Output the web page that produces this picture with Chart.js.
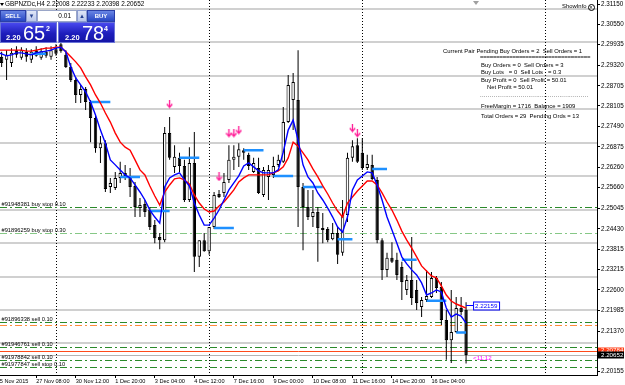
<!DOCTYPE html>
<html><head><meta charset="utf-8">
<script src="https://cdn.jsdelivr.net/npm/chart.js@4.4.0/dist/chart.umd.min.js"></script>
<style>
html,body{margin:0;padding:0;background:#fff;overflow:hidden;}
#wrap{position:relative;width:625px;height:385px;}
#c{position:absolute;left:0;top:0;}
.t{position:absolute;font-family:"Liberation Sans",Arial,sans-serif;color:#000;white-space:pre;line-height:1;font-size:5.9px;}
.btn{position:absolute;top:10px;height:12px;background:linear-gradient(#6a86e4,#2747c4);color:#fff;font:bold 6px "Liberation Sans",Arial,sans-serif;text-align:center;line-height:11px;box-sizing:border-box;border:1px solid #2a3fa8;}
.spin{position:absolute;top:10px;height:12px;background:linear-gradient(#dfe6f7,#b9c6ea);color:#24408f;font:7px "DejaVu Sans",sans-serif;text-align:center;line-height:11px;box-sizing:border-box;border:1px solid #8a9bd0;}
.inp{position:absolute;top:10px;height:12px;background:#fff;box-sizing:border-box;border:1px solid #9aa6c8;font:6.5px "Liberation Sans",Arial,sans-serif;text-align:right;line-height:10px;padding-right:5px;}
.pbox{position:absolute;top:22px;height:21px;background:linear-gradient(#4848ee,#1e1ebc 55%,#1414a6);box-sizing:border-box;border:1px solid #6a74d8;color:#fff;font-family:"Liberation Sans",Arial,sans-serif;}
.pbox span{position:absolute;line-height:1;white-space:pre;}
.sm{font-size:7.5px;font-weight:bold;top:11px;}
.big{font-size:20px;top:-0.5px;}
.sup{font-size:7px;font-weight:bold;top:1.5px;}
.ico{display:inline-block;width:5px;height:5px;border:1px solid #000;border-radius:50%;vertical-align:-1px;margin-left:1px;font-size:5px;line-height:5px;text-align:center;}
</style></head><body>
<div id="wrap">
<canvas id="c" width="625" height="385"></canvas>
<div style="position:absolute;left:0;top:3px;width:0;height:0;border-left:2px solid transparent;border-right:2px solid transparent;border-top:3px solid #000;"></div>
<div class="t" id="title" style="left:5px;top:1px;font-size:6.4px"></div>
<div class="btn" style="left:0;width:26px">SELL</div>
<div class="spin" style="left:26px;width:11px">▾</div>
<div class="inp" style="left:37px;width:40px">0.01</div>
<div class="spin" style="left:77px;width:10px">▴</div>
<div class="btn" style="left:87px;width:28px">BUY</div>
<div class="pbox" style="left:0;width:57px"><span class="sm" style="left:5px">2.20</span><span class="big" style="left:22px">65</span><span class="sup" style="left:45px">2</span></div>
<div class="pbox" style="left:58px;width:57px"><span class="sm" style="left:6px">2.20</span><span class="big" style="left:23px">78</span><span class="sup" style="left:45px">4</span></div>
<div style="position:absolute;left:473px;top:1px;width:0;height:0;border-left:3px solid transparent;border-right:3px solid transparent;border-top:4px solid #a0a0a0;"></div>
<div class="t" style="left:562px;top:4px">ShowInfo<span class="ico">×</span></div>
<div class="t" style="left:443px;top:48.7px">Current Pair Pending Buy Orders = 2  Sell Orders = 1</div>
<div class="t" style="left:480px;top:54.5px;font-weight:bold;letter-spacing:-0.2px">==================================</div>
<div class="t" style="left:481px;top:62.7px">Buy Orders = 0  Sell Orders = 3</div>
<div class="t" style="left:481px;top:70.3px">Buy Lots   = 0  Sell Lots   = 0.3</div>
<div class="t" style="left:481px;top:77.7px">Buy Profit = 0  Sell Profit = 50.01</div>
<div class="t" style="left:487px;top:84.7px">Net Profit = 50.01</div>
<div class="t" style="left:480px;top:92.5px;letter-spacing:0.3px">........................................................</div>
<div class="t" style="left:481px;top:104.3px">FreeMargin = 1716  Balance = 1909</div>
<div class="t" style="left:481px;top:113.7px">Total Orders = 29  Pending Ords = 13</div>
</div>
<script>
// ---------------- DATA ----------------
const symbolName = "GBPNZDc,H4";
const xTickBars = [0, 8, 16, 24, 32, 40, 48, 56, 64, 72, 80, 88];
const xTickLabels = ["25 Nov 2015", "27 Nov 08:00", "30 Nov 12:00", "1 Dec 20:00", "3 Dec 04:00", "4 Dec 12:00",
  "7 Dec 16:00", "9 Dec 00:00", "10 Dec 08:00", "11 Dec 16:00", "14 Dec 20:00", "16 Dec 04:00"];
const yTickLabels = ["2.31150", "2.30550", "2.29935", "2.29320", "2.28705", "2.28105", "2.27490", "2.26875",
  "2.26260", "2.25660", "2.25045", "2.24430", "2.23815", "2.23215", "2.22600", "2.21985", "2.21370", "2.20155"];
const roundLevels = [2.31, 2.30, 2.29, 2.28, 2.27, 2.26, 2.25, 2.24, 2.23, 2.22, 2.21];

const openPrices = [2.2963,2.2957,2.2948,2.2939,2.2977,2.2954,2.2972,2.2948,2.2977,2.2954,
  2.2972,2.2957,2.2980,2.2995,2.2963,2.2927,2.2888,2.2843,2.2861,2.2822,
  2.2774,2.2684,2.2699,2.2568,2.2565,2.2595,2.2610,2.2601,2.2571,2.2505,
  2.2517,2.2499,2.2454,2.2418,2.2409,2.2729,2.2628,2.2655,2.2631,2.2529,
  2.2640,2.2359,2.2409,2.2376,2.2448,2.2547,2.2550,2.2589,2.2649,2.2658,
  2.2678,2.2664,2.2613,2.2625,2.2544,2.2598,2.2604,2.2634,2.2643,2.2762,
  2.2828,2.2828,2.2568,2.2508,2.2478,2.2493,2.2439,2.2442,2.2412,2.2430,
  2.2371,2.2484,2.2655,2.2693,2.2670,2.2625,2.2634,2.2589,2.2409,2.2320,
  2.2356,2.2350,2.2329,2.2260,2.2290,2.2260,2.2209,2.2230,2.2239,2.2296,
  2.2269,2.2170,2.2110,2.2134,2.2206,2.22008];
const highPrices = [2.2983,2.2972,2.2977,2.2983,2.2989,2.2986,2.2983,2.2980,2.2989,2.2983,
  2.2986,2.2989,2.2995,2.3007,2.2977,2.2939,2.2897,2.2873,2.2867,2.2828,
  2.2783,2.2720,2.2708,2.2595,2.2613,2.2643,2.2634,2.2625,2.2583,2.2535,
  2.2529,2.2508,2.2469,2.2430,2.2747,2.2777,2.2693,2.2670,2.2649,2.2687,
  2.2732,2.2409,2.2430,2.2448,2.2553,2.2559,2.2610,2.2693,2.2693,2.2699,
  2.2684,2.2670,2.2655,2.2655,2.2628,2.2634,2.2658,2.2664,2.2807,2.2903,
  2.2909,2.2977,2.2580,2.2559,2.2559,2.2508,2.2490,2.2448,2.2460,2.2448,
  2.2529,2.2670,2.2708,2.2714,2.2714,2.2664,2.2664,2.2598,2.2415,2.2371,
  2.2403,2.2371,2.2344,2.2305,2.2418,2.2290,2.2239,2.2320,2.2314,2.2302,
  2.2284,2.2200,2.2260,2.2239,2.2239,2.22233];
const lowPrices = [2.2942,2.2927,2.2888,2.2927,2.2954,2.2948,2.2942,2.2939,2.2957,2.2948,
  2.2954,2.2948,2.2960,2.2969,2.2924,2.2882,2.2819,2.2819,2.2798,2.2702,
  2.2670,2.2640,2.2553,2.2550,2.2559,2.2580,2.2589,2.2538,2.2478,2.2478,
  2.2478,2.2439,2.2400,2.2382,2.2403,2.2649,2.2610,2.2613,2.2523,2.2523,
  2.2314,2.2329,2.2374,2.2365,2.2442,2.2535,2.2538,2.2580,2.2619,2.2628,
  2.2649,2.2619,2.2610,2.2547,2.2538,2.2529,2.2595,2.2628,2.2640,2.2759,
  2.2738,2.2448,2.2379,2.2469,2.2448,2.2344,2.2400,2.2403,2.2409,2.2338,
  2.2362,2.2463,2.2643,2.2640,2.2619,2.2619,2.2589,2.2400,2.2290,2.2299,
  2.2341,2.2290,2.2230,2.2245,2.2215,2.2200,2.2179,2.2224,2.2236,2.2251,
  2.2155,2.2051,2.2042,2.2131,2.2185,2.20398];
const closePrices = [2.2954,2.2939,2.2963,2.2969,2.2963,2.2977,2.2957,2.2972,2.2960,2.2974,
  2.2960,2.2977,2.2966,2.2974,2.2927,2.2888,2.2843,2.2861,2.2822,2.2774,
  2.2684,2.2699,2.2562,2.2580,2.2595,2.2610,2.2601,2.2568,2.2508,2.2514,
  2.2493,2.2448,2.2415,2.2409,2.2729,2.2655,2.2658,2.2631,2.2529,2.2640,
  2.2359,2.2409,2.2376,2.2448,2.2544,2.2538,2.2583,2.2649,2.2658,2.2681,
  2.2670,2.2631,2.2640,2.2550,2.2619,2.2619,2.2631,2.2649,2.2762,2.2873,
  2.2882,2.2568,2.2508,2.2478,2.2493,2.2445,2.2445,2.2409,2.2430,2.2365,
  2.2484,2.2655,2.2690,2.2643,2.2625,2.2637,2.2592,2.2409,2.2320,2.2356,
  2.2344,2.2305,2.2284,2.2290,2.2236,2.2221,2.2230,2.2242,2.2296,2.2266,
  2.2170,2.2110,2.2134,2.2206,2.2194,2.20652];

const maSlow = [2.2977,2.2977,2.2977,2.2977,2.2977,2.2977,2.2974,2.2974,2.2977,2.2980,
  2.2983,2.2983,2.2986,2.2986,2.2972,2.2957,2.2942,2.2924,2.2897,2.2873,
  2.2843,2.2819,2.2789,2.2762,2.2729,2.2702,2.2687,2.2678,2.2649,2.2619,
  2.2604,2.2571,2.2541,2.2514,2.2553,2.2574,2.2592,2.2595,2.2589,2.2577,
  2.2544,2.2520,2.2502,2.2493,2.2496,2.2511,2.2523,2.2541,2.2559,2.2583,
  2.2595,2.2604,2.2604,2.2604,2.2604,2.2604,2.2610,2.2616,2.2628,2.2655,
  2.2702,2.2690,2.2670,2.2649,2.2622,2.2598,2.2571,2.2547,2.2520,2.2496,
  2.2478,2.2520,2.2538,2.2556,2.2571,2.2586,2.2586,2.2574,2.2550,2.2523,
  2.2499,2.2469,2.2436,2.2409,2.2385,2.2359,2.2332,2.2317,2.2302,2.2296,
  2.2272,2.2245,2.2227,2.2218,2.2212,2.2206];
const maFast = [2.2972,2.2966,2.2960,2.2963,2.2969,2.2969,2.2966,2.2963,2.2969,2.2972,
  2.2974,2.2977,2.2983,2.2986,2.2972,2.2927,2.2894,2.2873,2.2852,2.2822,
  2.2783,2.2738,2.2699,2.2649,2.2634,2.2619,2.2604,2.2595,2.2574,2.2553,
  2.2529,2.2499,2.2478,2.2460,2.2568,2.2595,2.2604,2.2610,2.2589,2.2571,
  2.2520,2.2484,2.2454,2.2454,2.2475,2.2499,2.2529,2.2559,2.2580,2.2601,
  2.2631,2.2640,2.2628,2.2616,2.2610,2.2610,2.2610,2.2619,2.2672,2.2738,
  2.2768,2.2708,2.2634,2.2598,2.2580,2.2550,2.2529,2.2505,2.2478,2.2448,
  2.2433,2.2478,2.2559,2.2589,2.2601,2.2613,2.2610,2.2574,2.2529,2.2478,
  2.2439,2.2400,2.2359,2.2338,2.2320,2.2305,2.2281,2.2245,2.2251,2.2260,
  2.2254,2.2206,2.2179,2.2188,2.2182,2.2161];

const levelStartBars = [7, 19, 25, 31, 37, 44, 50, 56, 62, 69, 76, 82, 87, 93];
const levelEndBars   = [10, 23, 29, 35, 41, 48, 54, 60, 66, 72, 79, 85, 91, 95];
const levelPrices    = [2.2966, 2.2822, 2.2598, 2.2496, 2.2655, 2.2445, 2.2678, 2.2601, 2.2568, 2.2412, 2.2622, 2.2350, 2.2228, 2.2133];

const arrowBars   = [35, 45, 47, 48, 49, 72, 73];
const arrowPrices = [2.2816, 2.2598, 2.2729, 2.2729, 2.2738, 2.2744, 2.2729];

const orderTickets = [91948381, 91896259, 91896338, 91946761, 91978842, 91977847];
const orderTypes   = ["buy stop", "buy stop", "sell", "sell", "sell", "sell stop"];
const orderLots    = [0.10, 0.30, 0.10, 0.10, 0.10, 0.10];
const orderPrices  = [2.25066, 2.24294, 2.21642, 2.20895, 2.20497, 2.20306];
const stopLevels   = [2.21567];

const askPrice = 2.20784;
const bidPrice = 2.20652;
const markerPrice = 2.22159;
const barTimer = "<11:12";
const weekStartBars = [12, 43, 74, 111];

// ---------------- STYLE ----------------
const FONT = '"Liberation Sans", Arial, sans-serif';
const orderLineColors = ['#2a8a2a', '#86c886', '#2a8a2a', '#2a8a2a', '#2a8a2a', '#2a8a2a'];
const stopLineColor = '#ff8a3a';
const yMax = 2.3127, yMin = 2.200575;
const xMin = 0.67, xMax = 121.5;

document.getElementById('title').textContent = symbolName + ' ' +
  [openPrices, highPrices, lowPrices, closePrices].map(a => a[a.length - 1].toFixed(5)).join(' ');

const bars = openPrices.map((_, i) => i);
const wickData = bars.map(i => ({x: i, y: [lowPrices[i], highPrices[i]]}));
const bodyData = bars.map(i => ({x: i, y: [openPrices[i], closePrices[i]]}));
const bodyColors = bars.map(i => closePrices[i] > openPrices[i] ? '#ffffff' : '#000000');
const levelData = [];
levelPrices.forEach((p, k) => {
  levelData.push({x: levelStartBars[k], y: p}, {x: levelEndBars[k], y: p}, {x: levelEndBars[k] + 0.5, y: null});
});
const arrowData = arrowBars.map((b, k) => ({x: b, y: arrowPrices[k]}));

function arrowImage() {
  const c = document.createElement('canvas'); c.width = 7; c.height = 9;
  const g = c.getContext('2d');
  g.strokeStyle = '#ff1493'; g.lineWidth = 1.3;
  g.beginPath(); g.moveTo(3.5, 0); g.lineTo(3.5, 7.5); g.stroke();
  g.beginPath(); g.moveTo(0.8, 4.5); g.lineTo(3.5, 7.8); g.lineTo(6.2, 4.5); g.stroke();
  return c;
}

const decor = {
  id: 'decor',
  beforeDatasetsDraw(chart) {
    const {ctx, chartArea: a, scales: {x, y}} = chart;
    const hline = p => { const py = Math.round(y.getPixelForValue(p)) + 0.5; ctx.beginPath(); ctx.moveTo(a.left, py); ctx.lineTo(a.right, py); ctx.stroke(); };
    ctx.save();
    ctx.beginPath(); ctx.rect(a.left, a.top, a.width, a.height); ctx.clip();
    ctx.lineWidth = 1.6; ctx.strokeStyle = '#c0c0c0';
    roundLevels.forEach(p => { const py = Math.round(y.getPixelForValue(p)); ctx.beginPath(); ctx.moveTo(a.left, py); ctx.lineTo(a.right, py); ctx.stroke(); });
    ctx.lineWidth = 1;
    ctx.strokeStyle = '#000'; ctx.setLineDash([1, 2]);
    weekStartBars.forEach(b => {
      const px = Math.round(x.getPixelForValue(b)) + 0.5;
      ctx.beginPath(); ctx.moveTo(px, a.top); ctx.lineTo(px, a.bottom); ctx.stroke();
    });
    ctx.setLineDash([]);
    ctx.strokeStyle = '#b4b4b4'; hline(bidPrice);
    ctx.strokeStyle = '#ff4a1a'; hline(askPrice);
    ctx.setLineDash([7, 3, 2, 3]);
    orderPrices.forEach((p, i) => { ctx.strokeStyle = orderLineColors[i]; hline(p); });
    ctx.strokeStyle = stopLineColor; stopLevels.forEach(hline);
    ctx.restore();
  },
  afterDatasetsDraw(chart) {
    const {ctx, scales: {x, y}} = chart;
    ctx.save();
    ctx.font = '5.7px ' + FONT; ctx.fillStyle = '#000'; ctx.textBaseline = 'bottom'; ctx.textAlign = 'left';
    orderPrices.forEach((p, i) => {
      const py = Math.round(y.getPixelForValue(p));
      ctx.fillText('#' + orderTickets[i] + ' ' + orderTypes[i] + ' ' + orderLots[i].toFixed(2), 1.5, py);
    });
    const lastX = x.getPixelForValue(bars.length - 1);
    const my = Math.round(y.getPixelForValue(markerPrice)) + 0.5;
    ctx.strokeStyle = '#0000ff'; ctx.lineWidth = 1;
    ctx.beginPath(); ctx.moveTo(lastX, my); ctx.lineTo(lastX + 7, my); ctx.stroke();
    ctx.fillStyle = '#fff'; ctx.fillRect(lastX + 7, my - 4, 26, 8);
    ctx.strokeRect(lastX + 7 + 0.5, my - 4 + 0.5, 26, 8);
    ctx.fillStyle = '#0000ff'; ctx.font = '6.2px ' + FONT; ctx.textBaseline = 'middle';
    ctx.fillText(markerPrice.toFixed(5), lastX + 9, my + 0.5);
    ctx.fillStyle = '#ff00ff'; ctx.font = '6.2px ' + FONT;
    ctx.fillText(barTimer, lastX + 7, y.getPixelForValue(bidPrice) + 3);
    ctx.restore();
  },
  afterDraw(chart) {
    const {ctx, chartArea: a, scales: {y}} = chart;
    ctx.save();
    ctx.font = '6.2px ' + FONT; ctx.textBaseline = 'middle'; ctx.textAlign = 'left';
    [[askPrice, '#ff3c14'], [bidPrice, '#000000']].forEach(([p, col]) => {
      const py = y.getPixelForValue(p);
      ctx.fillStyle = col; ctx.fillRect(a.right + 1, Math.round(py) - 3.5, 625 - a.right - 2, 7);
      ctx.fillStyle = '#fff'; ctx.fillText(p.toFixed(5), a.right + 4, py);
    });
    ctx.restore();
  }
};

new Chart(document.getElementById('c'), {
  type: 'bar',
  data: {
    datasets: [
      {type: 'scatter', data: arrowData, pointStyle: arrowImage(), order: 0, clip: false},
      {type: 'line', data: maFast.map((v, i) => ({x: i, y: v})), borderColor: '#0000ff', borderWidth: 1.4, pointRadius: 0, order: 1},
      {type: 'line', data: maSlow.map((v, i) => ({x: i, y: v})), borderColor: '#ff0000', borderWidth: 1.4, pointRadius: 0, order: 2},
      {type: 'line', data: levelData, borderColor: '#1e90ff', borderWidth: 2.5, pointRadius: 0, spanGaps: false, order: 3},
      {type: 'bar', data: bodyData, backgroundColor: bodyColors, borderColor: '#000', borderWidth: 1, borderSkipped: false, barThickness: 3.4, grouped: false, inflateAmount: 0, order: 4},
      {type: 'bar', data: wickData, backgroundColor: '#000', borderWidth: 0, barThickness: 1, grouped: false, inflateAmount: 0, order: 5}
    ]
  },
  options: {
    responsive: false,
    animation: false,
    events: [],
    layout: {padding: 0, autoPadding: false},
    plugins: {legend: {display: false}, tooltip: {enabled: false}},
    scales: {
      x: {
        type: 'linear', position: 'bottom', min: xMin, max: xMax, bounds: 'data', offset: false,
        afterBuildTicks: s => { s.ticks = xTickBars.map(v => ({value: v})); },
        afterFit: s => { s.height = 10; s.paddingLeft = 0; s.paddingRight = 0; },
        ticks: {autoSkip: false, maxRotation: 0, minRotation: 0, align: 'start', padding: 0, color: '#000',
          font: {family: FONT, size: 5.6},
          callback: v => { const k = xTickBars.indexOf(v); return k >= 0 ? xTickLabels[k] : ''; }},
        grid: {drawOnChartArea: false, drawTicks: true, tickLength: 3, color: '#000', offset: false},
        border: {display: true, color: '#000', width: 1}
      },
      y: {
        type: 'linear', position: 'right', min: yMin, max: yMax, bounds: 'data',
        afterBuildTicks: s => { s.ticks = yTickLabels.map(t => ({value: parseFloat(t)})); },
        afterFit: s => { s.width = 28; s.paddingTop = 0; s.paddingBottom = 0; },
        ticks: {padding: 1, color: '#000', font: {family: FONT, size: 6.3},
          callback: (v, i) => yTickLabels[i]},
        grid: {drawOnChartArea: false, drawTicks: true, tickLength: 3, color: '#000'},
        border: {display: true, color: '#000', width: 1}
      }
    }
  },
  plugins: [decor]
});
</script>
</body></html>
